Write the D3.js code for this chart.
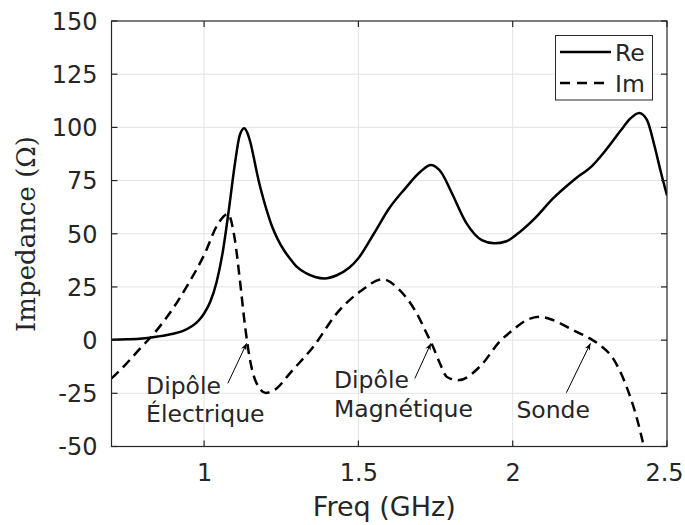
<!DOCTYPE html>
<html>
<head>
<meta charset="utf-8">
<script src="https://cdn.jsdelivr.net/npm/d3@7"></script>
<style>
  html, body { margin: 0; padding: 0; background: #fff; }
  svg { display: block; }
  text { font-family: "DejaVu Sans", sans-serif; fill: #262626; }
</style>
</head>
<body>
<svg id="chart" width="685" height="525"></svg>
<script>
// ---------- data ----------
const reFreq = [0.70,0.75,0.80,0.85,0.90,0.93,0.96,0.98,1.00,1.02,1.04,1.06,1.08,1.10,1.115,1.13,1.14,1.15,1.16,1.17,1.18,1.19,1.205,1.22,1.24,1.26,1.28,1.30,1.33,1.36,1.39,1.43,1.47,1.50,1.55,1.60,1.65,1.70,1.735,1.77,1.80,1.85,1.90,1.94,1.98,2.02,2.07,2.13,2.20,2.26,2.30,2.35,2.38,2.41,2.435,2.46,2.48,2.50];
const reValues = [0.2,0.4,0.8,1.7,3.0,4.2,6.5,8.8,12.5,18,27,41,61,83,96,99.6,97.5,93,86.5,79.5,73,67.5,60,53.5,47,42,38,34.5,31.5,29.7,29,30.5,34,38.5,50,62,71,79,82.3,78.5,70,55,47,45.5,46.5,50.5,57,66.5,75.5,82.3,89,98.5,104,106.8,103.5,91,79,68];

const imFreq = [0.70,0.744,0.793,0.84,0.895,0.95,1.00,1.046,1.077,1.10,1.116,1.133,1.149,1.17,1.20,1.235,1.278,1.354,1.43,1.505,1.579,1.633,1.689,1.721,1.737,1.764,1.786,1.823,1.894,1.959,2.00,2.045,2.088,2.131,2.196,2.25,2.282,2.325,2.369,2.401,2.425,2.44];
const imValues = [-18,-11.7,-3.9,3.5,14,26.7,40,54.9,59.3,47,28.2,6.3,-9.4,-20.3,-24.8,-22.7,-15.6,-3.1,12.6,22.8,28.6,23.6,12.6,3.2,-1.5,-10.9,-17.2,-18.9,-12.4,-0.5,4.7,9.4,11,9.4,4.7,0.8,-2.3,-8.6,-21.9,-36,-50,-60];

const xTicks = [1, 1.5, 2, 2.5];
const xTickLabels = ["1", "1.5", "2", "2.5"];
const yTicks = [-50, -25, 0, 25, 50, 75, 100, 125, 150];
const yTickLabels = ["-50", "-25", "0", "25", "50", "75", "100", "125", "150"];
const seriesNames = ["Re", "Im"];

const annotationLines = [["Dipôle", "Électrique"], ["Dipôle", "Magnétique"], ["Sonde"]];
const annotationText = [[0.812, -25.1], [1.421, -22.7], [2.012, -36.6]];
const annotationTail = [[1.077, -20.3], [1.683, -18.0], [2.174, -24.7]];
const annotationTip = [[1.138, -1.5], [1.735, -1.5], [2.252, -1.5]];

// ---------- layout ----------
const L = 111.5, R = 667, T = 21, B = 446.5;
const axisColor = "#262626";
const gridColor = "#e3e3e3";

const svg = d3.select("#chart");
const x = d3.scaleLinear().domain([0.7, 2.5]).range([L, R]);
const y = d3.scaleLinear().domain([-50, 150]).range([B, T]);

// grid
const g = svg.append("g");
g.selectAll(".gx").data(xTicks.filter(v => v < 2.5)).enter().append("line")
  .attr("x1", d => x(d)).attr("x2", d => x(d)).attr("y1", T).attr("y2", B)
  .attr("stroke", gridColor).attr("stroke-width", 1);
g.selectAll(".gy").data(yTicks.filter(v => v > -50 && v < 150)).enter().append("line")
  .attr("x1", L).attr("x2", R).attr("y1", d => y(d)).attr("y2", d => y(d))
  .attr("stroke", gridColor).attr("stroke-width", 1);

// clip + arrow marker
const defs = svg.append("defs");
defs.append("clipPath").attr("id", "clip")
  .append("rect").attr("x", L).attr("y", T).attr("width", R - L).attr("height", B - T);
defs.append("marker").attr("id", "arrow")
  .attr("viewBox", "0 0 10 10").attr("refX", 10).attr("refY", 5)
  .attr("markerWidth", 7).attr("markerHeight", 7).attr("markerUnits", "userSpaceOnUse")
  .attr("orient", "auto")
  .append("path").attr("d", "M0,1 L10,5 L0,9 L3,5 Z").attr("fill", "#000");

const line = d3.line().x(d => x(d[0])).y(d => y(d[1])).curve(d3.curveMonotoneX);
const reData = reFreq.map((f, i) => [f, reValues[i]]);
const imData = imFreq.map((f, i) => [f, imValues[i]]);

const plot = svg.append("g").attr("clip-path", "url(#clip)");
plot.append("path").datum(reData).attr("d", line)
  .attr("fill", "none").attr("stroke", "#000").attr("stroke-width", 2.5);
plot.append("path").datum(imData).attr("d", line)
  .attr("fill", "none").attr("stroke", "#000").attr("stroke-width", 2.5)
  .attr("stroke-dasharray", "10,6");

// axes box
svg.append("rect").attr("x", L).attr("y", T).attr("width", R - L).attr("height", B - T)
  .attr("fill", "none").attr("stroke", axisColor).attr("stroke-width", 1.2);

const tickLen = 6;
const xAxisB = d3.axisBottom(x).tickValues(xTicks).tickSize(0).tickFormat((d, i) => xTickLabels[i]);
const ax = svg.append("g").attr("transform", `translate(0,${B})`).call(xAxisB);
ax.select(".domain").remove();
ax.selectAll("text").attr("dy", null).attr("y", 34).style("font-size", "24px")
  .style("font-family", "DejaVu Sans").attr("fill", axisColor)
  .attr("x", d => d === 2.5 ? -3 : 0);
const yAxisL = d3.axisLeft(y).tickValues(yTicks).tickSize(0).tickFormat((d, i) => yTickLabels[i]);
const ay = svg.append("g").attr("transform", `translate(${L},0)`).call(yAxisL);
ay.select(".domain").remove();
ay.selectAll("text").attr("x", -14).attr("dy", "0.35em").style("font-size", "24px")
  .style("font-family", "DejaVu Sans").attr("fill", axisColor);

// inward ticks on all four sides
const tk = svg.append("g").attr("stroke", axisColor).attr("stroke-width", 1.2);
xTicks.forEach(v => {
  tk.append("line").attr("x1", x(v)).attr("x2", x(v)).attr("y1", B).attr("y2", B - tickLen);
  tk.append("line").attr("x1", x(v)).attr("x2", x(v)).attr("y1", T).attr("y2", T + tickLen);
});
yTicks.forEach(v => {
  tk.append("line").attr("x1", L).attr("x2", L + tickLen).attr("y1", y(v)).attr("y2", y(v));
  tk.append("line").attr("x1", R).attr("x2", R - tickLen).attr("y1", y(v)).attr("y2", y(v));
});

// axis labels
svg.append("text").attr("x", (L + R) / 2 - 5).attr("y", 516)
  .attr("text-anchor", "middle").style("font-size", "27px").text("Freq (GHz)");
svg.append("text")
  .attr("transform", "translate(35,136) rotate(-90)")
  .attr("text-anchor", "end")
  .style("font-family", "'DejaVu Serif', serif")
  .style("font-size", "26px").attr("fill", "#000")
  .text("Impedance (Ω)");

// annotations
annotationLines.forEach((lines, i) => {
  svg.append("line")
    .attr("x1", x(annotationTail[i][0])).attr("y1", y(annotationTail[i][1]))
    .attr("x2", x(annotationTip[i][0])).attr("y2", y(annotationTip[i][1]))
    .attr("stroke", "#000").attr("stroke-width", 1).attr("marker-end", "url(#arrow)");
  const t = svg.append("text").attr("x", x(annotationText[i][0])).attr("y", y(annotationText[i][1]))
    .style("font-size", "23.5px").attr("fill", "#000");
  lines.forEach((s, j) => {
    t.append("tspan").attr("x", x(annotationText[i][0]))
      .attr("y", y(annotationText[i][1]) + 28.5 * j)
      .text(s);
  });
});

// legend
const lg = svg.append("g");
lg.append("rect").attr("x", 555.5).attr("y", 35.5).attr("width", 97).attr("height", 64.5)
  .attr("fill", "#fff").attr("stroke", axisColor).attr("stroke-width", 1);
seriesNames.forEach((name, i) => {
  const yy = 52 + i * 31;
  lg.append("line").attr("x1", 560).attr("x2", 611).attr("y1", yy).attr("y2", yy)
    .attr("stroke", "#000").attr("stroke-width", 2.5)
    .attr("stroke-dasharray", i === 1 ? "10,7" : null);
  lg.append("text").attr("x", 615).attr("y", yy + 9).style("font-size", "23.5px")
    .attr("fill", "#000").text(name);
});
</script>
</body>
</html>
